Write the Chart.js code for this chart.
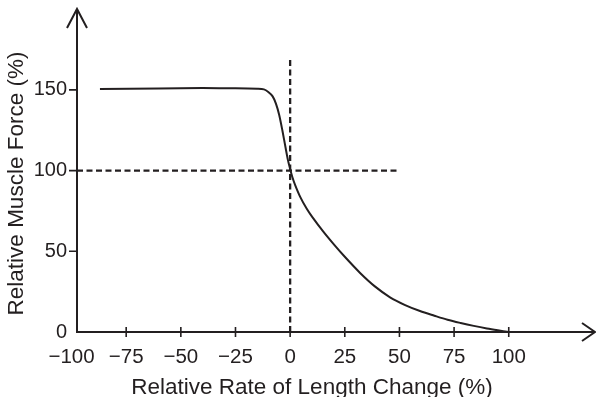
<!DOCTYPE html>
<html>
<head>
<meta charset="utf-8">
<script src="https://cdn.jsdelivr.net/npm/chart.js@4"></script>
<style>
html, body { margin: 0; padding: 0; background: #fff; }
</style>
</head>
<body>
<canvas id="grafico" width="596" height="397"></canvas>
<script>
// Dados da curva força-velocidade
const taxa = [-87, -60, -40, -25, -15, -12, -10, -8, -6.5, -5, -3.5, -2, -1, 0, 1, 2.3, 4.6, 7.6, 10, 15, 20, 25, 32, 38.9, 45.7, 52.6, 59.4, 66, 72, 78, 84, 90, 95, 100];
const forca = [150.6, 150.9, 151.1, 151, 150.7, 150.3, 148.7, 146, 141.5, 134.5, 124.5, 113.5, 106.5, 101, 96, 91, 83.7, 76.3, 71.5, 62.5, 54.3, 46.6, 36.6, 28.1, 21.5, 16.7, 13, 10.1, 7.6, 5.6, 3.8, 2.2, 1.05, 0];

// Linhas tracejadas de referência
const refVertX = [0, 0];
const refVertY = [0, 170];
const refHorX = [-97.5, 49];
const refHorY = [100, 100];

const xTicks = [-100, -75, -50, -25, 0, 25, 50, 75, 100];
const yTicks = [0, 50, 100, 150];

const cor = '#231f20';
Chart.defaults.font.family = '"Liberation Sans", Arial, sans-serif';
Chart.defaults.color = cor;

const pares = (xs, ys) => xs.map((v, i) => ({ x: v, y: ys[i] }));

// Setas e marcas dos eixos
const eixos = {
  id: 'eixos',
  afterDraw(chart) {
    const { ctx, chartArea: a, scales } = chart;
    ctx.save();
    ctx.strokeStyle = cor;
    ctx.lineWidth = 2;
    ctx.beginPath();
    // eixo y prolongado + seta
    ctx.moveTo(a.left, a.top + 1);
    ctx.lineTo(a.left, 9);
    ctx.moveTo(a.left - 10, 28);
    ctx.lineTo(a.left, 9);
    ctx.lineTo(a.left + 10, 28);
    // eixo x prolongado + seta
    ctx.moveTo(a.right - 1, a.bottom);
    ctx.lineTo(595, a.bottom);
    ctx.moveTo(582, a.bottom - 9);
    ctx.lineTo(595, a.bottom);
    ctx.lineTo(582, a.bottom + 9);
    ctx.stroke();

    ctx.lineWidth = 1.6;
    ctx.beginPath();
    xTicks.forEach(v => {
      if (v <= -100) return;
      const px = scales.x.getPixelForValue(v);
      ctx.moveTo(px, a.bottom - 5);
      ctx.lineTo(px, a.bottom + 5);
    });
    yTicks.forEach(v => {
      if (v === 0) return;
      const py = scales.y.getPixelForValue(v);
      ctx.moveTo(a.left - 8, py);
      ctx.lineTo(a.left, py);
    });
    ctx.stroke();
    ctx.restore();
  }
};

const ctx = document.getElementById('grafico').getContext('2d');
const grafico = new Chart(ctx, {
  type: 'scatter',
  data: {
    datasets: [
      {
        data: pares(taxa, forca),
        showLine: true,
        borderColor: cor,
        borderWidth: 2,
        pointRadius: 0,
        tension: 0.3
      },
      {
        data: pares(refVertX, refVertY),
        showLine: true,
        borderColor: cor,
        borderWidth: 2.3,
        borderDash: [6, 3.5],
        pointRadius: 0
      },
      {
        data: pares(refHorX, refHorY),
        showLine: true,
        borderColor: cor,
        borderWidth: 2.3,
        borderDash: [6, 3.5],
        pointRadius: 0
      }
    ]
  },
  options: {
    responsive: false,
    animation: false,
    devicePixelRatio: 1,
    layout: { padding: { top: 35, right: 49, bottom: 0, left: 0 } },
    plugins: { legend: { display: false }, tooltip: { enabled: false } },
    scales: {
      x: {
        type: 'linear',
        min: -97.5,
        max: 117.5,
        afterBuildTicks: s => { s.ticks = xTicks.map(v => ({ value: v })); },
        afterFit: s => { s.height = 65; },
        grid: { display: false },
        border: { display: true, color: cor, width: 2 },
        ticks: {
          font: { size: 20.5 },
          color: cor,
          padding: 5,
          maxRotation: 0,
          autoSkip: false,
          callback: v => (v < 0 ? '\u2212' + Math.abs(v) : String(v))
        },
        title: {
          display: true,
          text: 'Relative Rate of Length Change (%)',
          font: { size: 22.5, lineHeight: 0.85 },
          color: cor,
          padding: { top: 0, bottom: 0 }
        }
      },
      y: {
        min: 0,
        max: 184,
        afterBuildTicks: s => { s.ticks = yTicks.map(v => ({ value: v })); },
        afterFit: s => { s.width = 77; },
        grid: { display: false },
        border: { display: true, color: cor, width: 2 },
        ticks: {
          font: { size: 20 },
          color: cor,
          padding: 2
        },
        title: {
          display: true,
          text: 'Relative Muscle Force (%)',
          font: { size: 22.5 },
          color: cor,
          padding: { top: 3, bottom: 3 }
        }
      }
    }
  },
  plugins: [eixos]
});
</script>
</body>
</html>
